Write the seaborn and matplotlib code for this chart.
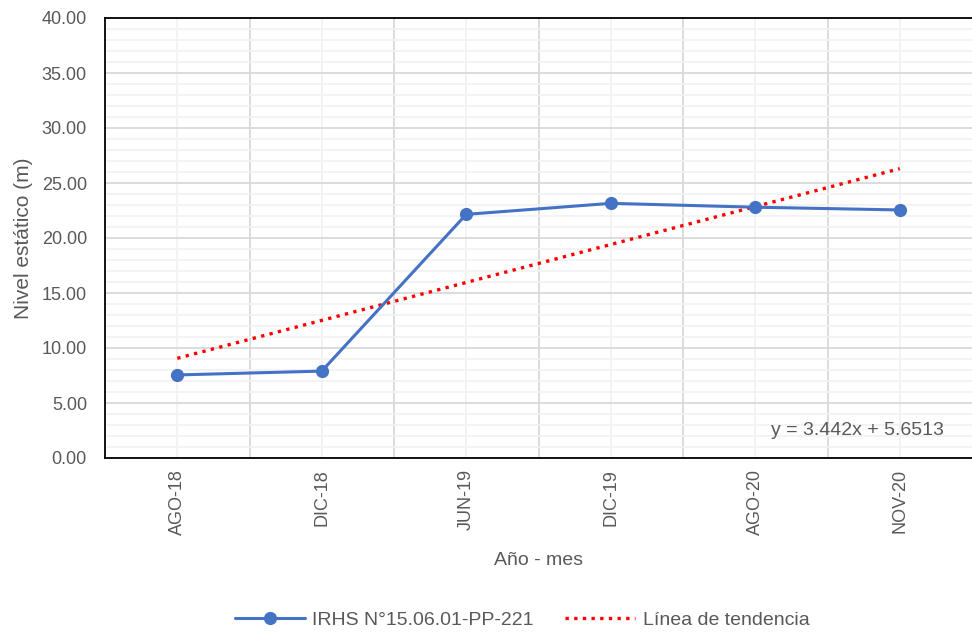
import numpy as np
import pandas as pd
import matplotlib
matplotlib.use("Agg")
import matplotlib.pyplot as plt
from matplotlib import font_manager
from matplotlib.lines import Line2D
import seaborn as sns

# ---- data ----
categories = ["AGO-18", "DIC-18", "JUN-19", "DIC-19", "AGO-20", "NOV-20"]
nivel = [7.55, 7.90, 22.15, 23.15, 22.80, 22.55]
series_name = "IRHS N°15.06.01-PP-221"
trend_name = "Línea de tendencia"
equation = "y = 3.442x + 5.6513"
y_ticks = [0, 5, 10, 15, 20, 25, 30, 35, 40]

sns.set_theme(style="white")
names = {f.name for f in font_manager.fontManager.ttflist}
fam = "Liberation Sans Narrow" if "Liberation Sans Narrow" in names else "Liberation Sans"
plt.rcParams["font.family"] = [fam, "DejaVu Sans"]
txt = "#595959"

fig = plt.figure(figsize=(9.72, 6.36), dpi=100)
ax = fig.add_axes([105/972, 1-458/636, (972-105)/972, (458-18)/636])

x = np.arange(len(categories))
df = pd.DataFrame({"x": x, "y": nivel})
# linear trend (Excel-style, x = 1..n)
coef = np.polyfit(x + 1, nivel, 1)
df["trend"] = np.polyval(coef, x + 1)

# grids
ax.set_ylim(0, 40)
ax.set_xlim(-0.5, len(categories) - 0.5)
ax.set_yticks(y_ticks)
ax.set_yticks(np.arange(0, 41, 1), minor=True)
ax.grid(which="minor", axis="y", color="#f2f2f2", lw=1.3, zorder=0)
ax.grid(which="major", axis="y", color="#d9d9d9", lw=1.3, zorder=0)
ax.set_xticks(x)
ax.grid(which="major", axis="x", color="#f2f2f2", lw=1.3, zorder=0)
for b in np.arange(0.5, len(categories) - 0.5, 1):
    ax.axvline(b, color="#d9d9d9", lw=1.3, zorder=0)
ax.set_axisbelow(True)

sns.lineplot(data=df, x="x", y="trend", ax=ax, color="#ff0000", lw=2.4,
             linestyle=(0, (1, 1.6)), zorder=3)
sns.lineplot(data=df, x="x", y="y", ax=ax, color="#4472C4", lw=2.2,
             marker="o", markersize=9.5, markeredgewidth=0, zorder=4)

ax.set_xticklabels(categories, rotation=90, fontsize=13, color=txt)
ax.set_yticklabels([f"{v:.2f}" for v in y_ticks], fontsize=13, color=txt)
ax.tick_params(axis="both", which="both", length=0)
ax.tick_params(axis="x", pad=8)
ax.tick_params(axis="y", pad=13)

ax.set_xlabel("Año - mes", fontsize=14, color=txt, labelpad=12)
ax.set_ylabel("Nivel estático (m)", fontsize=15, color=txt, labelpad=6)

for side in ["left", "bottom", "top"]:
    ax.spines[side].set_visible(True)
    ax.spines[side].set_color("#000000")
    ax.spines[side].set_linewidth(1.3)
ax.spines["right"].set_visible(False)

ax.text(0.968, 0.062, equation, transform=ax.transAxes, ha="right", va="center",
        fontsize=14, color=txt)

handles = [
    Line2D([], [], color="#4472C4", lw=2.2, marker="o", markersize=9.5, markeredgewidth=0),
    Line2D([], [], color="#ff0000", lw=2.4, linestyle=(0, (1, 1.6))),
]
leg = fig.legend(handles, [series_name, trend_name], loc="center",
                 bbox_to_anchor=(0.537, 1 - 620/636), ncol=2, frameon=False,
                 fontsize=14, handlelength=3.6, columnspacing=1.6, handletextpad=0.4)
for t in leg.get_texts():
    t.set_color(txt)

fig.savefig("out.png", dpi=100)
